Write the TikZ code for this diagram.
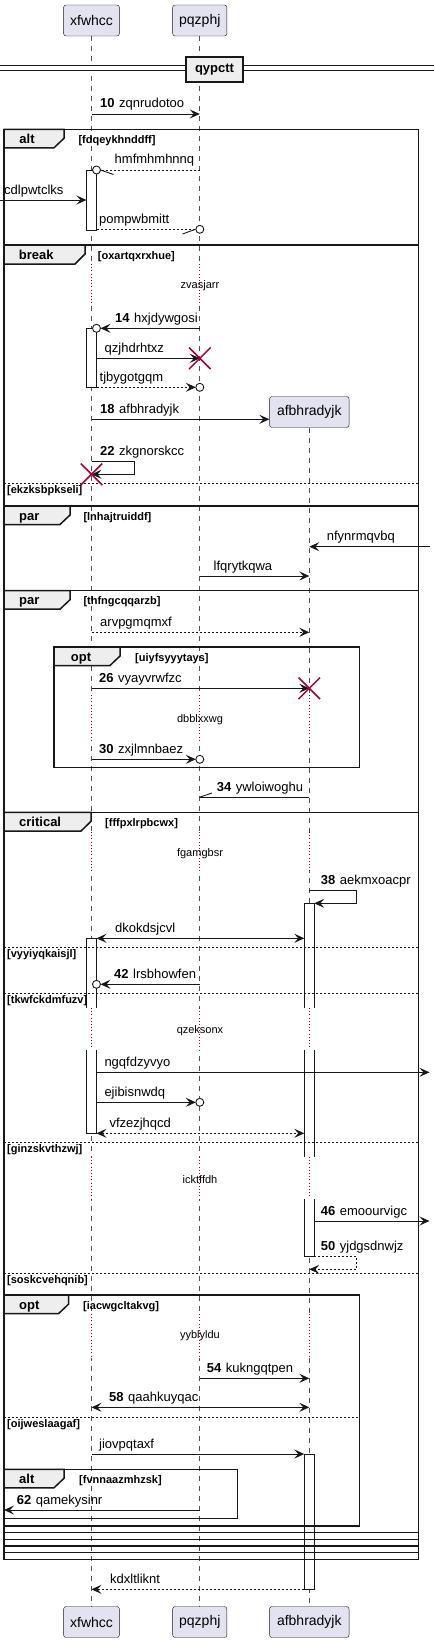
\documentclass[tikz,border=0pt]{standalone}
\usepackage{fontspec}
\setmainfont{Liberation Sans}
\usetikzlibrary{arrows.meta,positioning,shapes.misc}
\definecolor{ink}{HTML}{181818}
\definecolor{partfill}{HTML}{E2E2F0}
\definecolor{tabfill}{HTML}{EEEEEE}
\definecolor{killred}{HTML}{A80036}
\newcommand{\seqno}[1]{\textbf{#1}\hspace{4.5pt}}

\begin{document}
\begin{tikzpicture}[x=1pt, y=-1pt,
    >={Stealth[length=10pt,width=9pt,inset=4pt]},
    part/.style={draw=ink, fill=partfill, rounded corners=2.5pt, minimum height=31pt, inner xsep=6.5pt, font=\fontsize{14}{16}\selectfont},
    life/.style={draw=ink!75, line width=0.7pt, dash pattern=on 5pt off 5pt},
    delay/.style={draw=killred, line width=0.8pt, dash pattern=on 0.8pt off 2.4pt, preaction={draw=white, line width=2.5pt, solid}},
    ln/.style={draw=ink, line width=0.9pt},
    retln/.style={ln, dash pattern=on 2pt off 2pt},
    msg/.style={ln, ->},
    ret/.style={retln, ->},
    both/.style={ln, <->},
    bothret/.style={retln, <->},
    endo/.style={ln, fill=white},
    killx/.style={cross out, draw=killred, line width=1.5pt, minimum size=20pt, inner sep=0pt},
    bar/.style={fill=white},
    frm/.style={draw=ink, line width=1.5pt},
    tab/.style={draw=ink, fill=tabfill, line width=1.5pt},
    sep/.style={draw=ink, line width=0.8pt, dash pattern=on 2pt off 2pt},
    lbl/.style={anchor=base west, inner sep=0pt, font=\fontsize{13}{15}\selectfont},
    tabtxt/.style={anchor=base west, inner sep=0pt, font=\bfseries\fontsize{13}{15}\selectfont},
    grd/.style={anchor=base west, inner sep=0pt, font=\bfseries\fontsize{11}{13}\selectfont},
    dly/.style={anchor=base, inner sep=0pt, font=\fontsize{11}{13}\selectfont}]
  \useasboundingbox (0,0) rectangle (434,1643);

  %participants
  \node[part, minimum width=55pt] (xfwTop) at (91.5,20.5) {xfwhcc};
  \node[part, minimum width=54pt] (pqzTop) at (199.8,20.5) {pqzphj};
  \node[part, minimum width=79.5pt] (afbNew) at (309.3,412) {afbhradyjk};
  \node[part, minimum width=55pt] (xfwBot) at (91.5,1622) {xfwhcc};
  \node[part, minimum width=54pt] (pqzBot) at (199.8,1622) {pqzphj};
  \node[part, minimum width=79.5pt] (afbBot) at (309.3,1622) {afbhradyjk};
  \coordinate (xfwL) at (86.5,0);
  \coordinate (xfwR) at (96.5,0);
  \coordinate (afbL) at (304.3,0);
  \coordinate (afbR) at (314.3,0);
  \coordinate (edgeL) at (0,0);
  \coordinate (frameL) at (4,0);
  \coordinate (edgeR) at (429.5,0);

  %lifelines
  \draw[life] (xfwTop) -- (xfwBot);
  \draw[life] (pqzTop) -- (pqzBot);
  \draw[life] (afbNew) -- (afbBot);

  %delays
  \draw[delay] (xfwTop|-0,264) -- (xfwTop|-0,307);
  \draw[delay] (pqzTop|-0,264) -- (pqzTop|-0,307);
  \foreach \top/\bot in {695/741, 832/871, 1008/1050, 1157/1199, 1314/1358} {
    \draw[delay] (xfwTop|-0,\top) -- (xfwTop|-0,\bot);
    \draw[delay] (pqzTop|-0,\top) -- (pqzTop|-0,\bot);
    \draw[delay] (afbNew|-0,\top) -- (afbNew|-0,\bot);
  }
  \node[dly] (d1) at (200,288) {zvasjarr};
  \node[dly] (d2) at (200,722) {dbblxxwg};
  \node[dly] (d3) at (200,856) {fgamgbsr};
  \node[dly] (d4) at (200,1033) {qzeksonx};
  \node[dly] (d5) at (200,1183) {icktffdh};
  \node[dly] (d6) at (200,1338) {yyblyldu};

  %divider
  \fill[white] (0,66) rectangle (434,71);
  \draw[ink, line width=1pt] (0,66) -- (434,66) (0,71) -- (434,71);
  \node[draw=ink, fill=tabfill, line width=1.5pt, minimum width=57pt, minimum height=25pt, inner sep=0pt,
        font=\bfseries\fontsize{13}{15}\selectfont] (qypctt) at (214.5,69.5) {qypctt};

  %activations
  \fill[bar] (86.5,170) rectangle (96.5,230);
  \draw[ln] (86.5,170) rectangle (96.5,230);
  \fill[bar] (86.5,328.3) rectangle (96.5,387.3);
  \draw[ln] (86.5,328.3) rectangle (96.5,387.3);
  \fill[bar] (86.5,938.3) rectangle (96.5,1008);
  \draw[ln] (86.5,1008) -- (86.5,938.3) -- (96.5,938.3) -- (96.5,1008);
  \fill[bar] (86.5,1050) rectangle (96.5,1133.3);
  \draw[ln] (86.5,1050) -- (86.5,1133.3) -- (96.5,1133.3) -- (96.5,1050);
  \fill[bar] (304.3,903.3) rectangle (314.3,1008);
  \draw[ln] (304.3,1008) -- (304.3,903.3) -- (314.3,903.3) -- (314.3,1008);
  \fill[bar] (304.3,1050) rectangle (314.3,1157);
  \draw[ln] (304.3,1050) -- (304.3,1157) (314.3,1050) -- (314.3,1157);
  \fill[bar] (304.3,1199) rectangle (314.3,1256.7);
  \draw[ln] (304.3,1199) -- (304.3,1256.7) -- (314.3,1256.7) -- (314.3,1199);
  \fill[bar] (304.3,1454) rectangle (314.3,1589.3);
  \draw[ln] (304.3,1454) rectangle (314.3,1589.3);

  %frames
  \draw[frm] (4,129.3) rectangle (418.3,1559.3);
  \draw[tab] (4,129.3) -- (64,129.3) -- (64,138.3) -- (54,147.8) -- (4,147.8) -- cycle;
  \node[tabtxt] (f1) at (19.3,143.3) {alt};
  \node[grd] (g1) at (78.3,143.3) {[fdqeykhnddff]};
  \draw[frm] (4,245) rectangle (418.3,1552.7);
  \draw[tab] (4,245) -- (85,245) -- (85,254) -- (75,264) -- (4,264) -- cycle;
  \node[tabtxt] (f2) at (18.7,259) {break};
  \node[grd] (g2) at (97.7,259) {[oxartqxrxhue]};
  \draw[sep] (4,483) -- (418.3,483);
  \node[grd] (s1) at (7,493.5) {[ekzksbpkseli]};
  \draw[frm] (4,506) rectangle (418.3,1546);
  \draw[tab] (4,506) -- (70,506) -- (70,515) -- (60,524.5) -- (4,524.5) -- cycle;
  \node[tabtxt] (f3) at (19,520) {par};
  \node[grd] (g3) at (83.3,520) {[lnhajtruiddf]};
  \draw[frm] (4,590.7) rectangle (418.3,1539.3);
  \draw[tab] (4,590.7) -- (70,590.7) -- (70,599.7) -- (60,609.2) -- (4,609.2) -- cycle;
  \node[tabtxt] (f4) at (19,604.7) {par};
  \node[grd] (g4) at (83.3,604.7) {[thfngcqqarzb]};
  \draw[frm] (54,647) rectangle (359.3,767.7);
  \draw[tab] (54,647) -- (120,647) -- (120,656) -- (110,665.5) -- (54,665.5) -- cycle;
  \node[tabtxt] (f5) at (70.7,661) {opt};
  \node[grd] (g5) at (135,661) {[uiyfsyyytays]};
  \draw[frm] (4,812.3) rectangle (418.3,1532.7);
  \draw[tab] (4,812.3) -- (91,812.3) -- (91,821.3) -- (81,831) -- (4,831) -- cycle;
  \node[tabtxt] (f6) at (19,826.3) {critical};
  \node[grd] (g6) at (105,826.3) {[fffpxlrpbcwx]};
  \draw[sep] (4,947) -- (418.3,947);
  \node[grd] (s2) at (7,957.5) {[vyyiyqkaisjl]};
  \draw[sep] (4,993) -- (418.3,993);
  \node[grd] (s3) at (7,1003.5) {[tkwfckdmfuzv]};
  \draw[sep] (4,1142) -- (418.3,1142);
  \node[grd] (s4) at (7,1152.5) {[ginzskvthzwj]};
  \draw[sep] (4,1273) -- (418.3,1273);
  \node[grd] (s5) at (7,1283.5) {[soskcvehqnib]};
  \draw[frm] (4,1295) rectangle (359.3,1526);
  \draw[tab] (4,1295) -- (68.7,1295) -- (68.7,1304) -- (58.7,1313.5) -- (4,1313.5) -- cycle;
  \node[tabtxt] (f7) at (19,1309) {opt};
  \node[grd] (g7) at (83,1309) {[iacwgcltakvg]};
  \draw[sep] (4,1417.3) -- (359.3,1417.3);
  \node[grd] (s6) at (7,1427.8) {[oijweslaagaf]};
  \draw[frm] (4,1469.3) rectangle (237.7,1518.3);
  \draw[tab] (4,1469.3) -- (64,1469.3) -- (64,1478.3) -- (54,1487.8) -- (4,1487.8) -- cycle;
  \node[tabtxt] (f8) at (19,1483.3) {alt};
  \node[grd] (g8) at (79,1483.3) {[fvnnaazmhzsk]};

  %messages
  \draw[msg] (xfwTop|-0,114) -- (pqzTop|-0,114);
  \node[lbl] (m10) at (100,108) {\seqno{10}zqnrudotoo};
  \draw[retln, shorten >=4pt] (pqzTop|-0,170) -- (xfwR|-0,170);
  \draw[ln] (100.5,170) -- (113.5,174.5);
  \draw[endo] (xfwR|-0,170) circle[radius=4pt];
  \node[lbl] (m11) at (114.5,164) {hmfmhmhnnq};
  \draw[msg] (edgeL|-0,200) -- (xfwL|-0,200);
  \node[lbl] (m12) at (4,194) {cdlpwtclks};
  \draw[retln, shorten >=4pt] (xfwR|-0,229.3) -- (pqzTop|-0,229.3);
  \draw[ln] (195.5,229.3) -- (182.5,234);
  \draw[endo] (pqzTop|-0,229.3) circle[radius=4pt];
  \node[lbl] (m13) at (99,223) {pompwbmitt};
  \draw[msg, shorten >=4pt] (pqzTop|-0,328.3) -- (xfwR|-0,328.3);
  \draw[endo] (xfwR|-0,328.3) circle[radius=4pt];
  \node[lbl] (m14) at (115,322) {\seqno{14}hxjdywgosi};
  \draw[msg] (xfwR|-0,358.3) -- (pqzTop|-0,358.3);
  \node[killx] (k1) at (pqzTop|-0,358.3) {};
  \node[lbl] (m15) at (104.5,352) {qzjhdrhtxz};
  \draw[ret, shorten >=4pt] (xfwR|-0,387.3) -- (pqzTop|-0,387.3);
  \draw[endo] (pqzTop|-0,387.3) circle[radius=4pt];
  \node[lbl] (m16) at (99.5,381) {tjbygotgqm};
  \draw[msg] (xfwTop|-0,419.3) -- (afbNew.west|-0,419.3);
  \node[lbl] (m18) at (100,413) {\seqno{18}afbhradyjk};
  \draw[msg] (xfwTop|-0,461.7) -- (134,461.7) -- (134,474.3) -- (xfwTop|-0,474.3);
  \node[killx] (k2) at (xfwTop|-0,474.3) {};
  \node[lbl] (m22) at (100,455.7) {\seqno{22}zkgnorskcc};
  \draw[msg] (edgeR|-0,546.7) -- (afbNew|-0,546.7);
  \node[lbl] (m23) at (326.7,540.7) {nfynrmqvbq};
  \draw[msg] (pqzTop|-0,576) -- (afbNew|-0,576);
  \node[lbl] (m24) at (213.5,570) {lfqrytkqwa};
  \draw[ret] (xfwTop|-0,632.3) -- (afbNew|-0,632.3);
  \node[lbl] (m25) at (100,626.3) {arvpgmqmxf};
  \draw[msg] (xfwTop|-0,688.3) -- (afbNew|-0,688.3);
  \node[killx] (k3) at (afbNew|-0,688.3) {};
  \node[lbl] (m26) at (99,682.3) {\seqno{26}vyayvrwfzc};
  \draw[msg, shorten >=4pt] (xfwTop|-0,759.3) -- (pqzTop|-0,759.3);
  \draw[endo] (pqzTop|-0,759.3) circle[radius=4pt];
  \node[lbl] (m30) at (99,753.3) {\seqno{30}zxjlmnbaez};
  \draw[ln] (afbNew|-0,797.3) -- (pqzTop|-0,797.3);
  \draw[ln] (199.5,797.3) -- (212,793);
  \node[lbl] (m34) at (216.7,791.3) {\seqno{34}ywloiwoghu};
  \draw[msg] (afbNew|-0,890.7) -- (356.7,890.7) -- (356.7,903.3) -- (afbR|-0,903.3);
  \node[lbl] (m38) at (320.7,884.7) {\seqno{38}aekmxoacpr};
  \draw[both] (xfwR|-0,938.3) -- (afbL|-0,938.3);
  \node[lbl] (m39) at (115,932.3) {dkokdsjcvl};
  \draw[msg, shorten >=4pt] (pqzTop|-0,984.3) -- (xfwR|-0,984.3);
  \draw[endo] (xfwR|-0,984.3) circle[radius=4pt];
  \node[lbl] (m42) at (114,978.3) {\seqno{42}lrsbhowfen};
  \draw[msg] (xfwR|-0,1072.3) -- (edgeR|-0,1072.3);
  \node[lbl] (m43) at (104.3,1066.3) {ngqfdzyvyo};
  \draw[msg, shorten >=4pt] (xfwR|-0,1102.3) -- (pqzTop|-0,1102.3);
  \draw[endo] (pqzTop|-0,1102.3) circle[radius=4pt];
  \node[lbl] (m44) at (104.3,1096.3) {ejibisnwdq};
  \draw[bothret] (xfwR|-0,1133.3) -- (afbL|-0,1133.3);
  \node[lbl] (m45) at (109.3,1127.3) {vfzezjhqcd};
  \draw[msg] (afbR|-0,1221) -- (edgeR|-0,1221);
  \node[lbl] (m46) at (320.7,1215) {\seqno{46}emoourvigc};
  \draw[ret] (afbR|-0,1256.7) -- (356.7,1256.7) -- (356.7,1269.3) -- (afbNew|-0,1269.3);
  \node[lbl] (m50) at (320.7,1250.7) {\seqno{50}yjdgsdnwjz};
  \draw[msg] (pqzTop|-0,1378.3) -- (afbNew|-0,1378.3);
  \node[lbl] (m54) at (206.7,1372.3) {\seqno{54}kukngqtpen};
  \draw[both] (xfwTop|-0,1407.3) -- (afbNew|-0,1407.3);
  \node[lbl] (m58) at (109,1401.3) {\seqno{58}qaahkuyqac};
  \draw[msg] (xfwTop|-0,1454) -- (afbL|-0,1454);
  \node[lbl] (m59) at (99,1448) {jiovpqtaxf};
  \draw[msg] (pqzTop|-0,1510) -- (frameL|-0,1510);
  \node[lbl] (m62) at (16.7,1504) {\seqno{62}qamekysinr};
  \draw[ret] (afbL|-0,1589.3) -- (xfwTop|-0,1589.3);
  \node[lbl] (m63) at (110,1583.3) {kdxltliknt};
\end{tikzpicture}
\end{document}
